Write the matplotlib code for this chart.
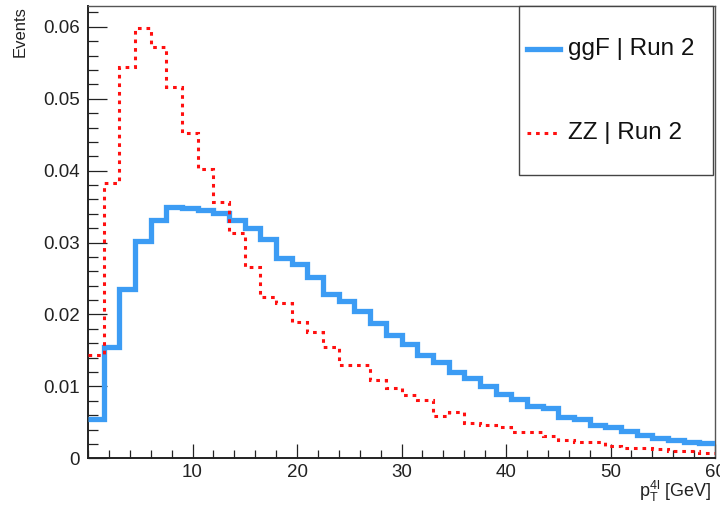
import numpy as np
import matplotlib
matplotlib.use("Agg")
import matplotlib.pyplot as plt
from matplotlib.lines import Line2D
from matplotlib.patches import Rectangle
from matplotlib.ticker import MultipleLocator

plt.rcParams["font.family"] = ["Liberation Sans", "DejaVu Sans"]
plt.rcParams["mathtext.fontset"] = "custom"
plt.rcParams["mathtext.rm"] = "Liberation Sans"
plt.rcParams["mathtext.it"] = "Liberation Sans"

# 40 bins of 1.5 GeV from 0 to 60
bin_edges = np.linspace(0, 60, 41)

ggf_run2 = [
    0.0055, 0.0155, 0.0235, 0.0302, 0.0331, 0.0349, 0.0348, 0.0345, 0.0341, 0.0331,
    0.0320, 0.0305, 0.0279, 0.0270, 0.0252, 0.0229, 0.0219, 0.0205, 0.0188, 0.0171,
    0.0159, 0.0144, 0.0134, 0.0120, 0.0111, 0.0100, 0.0089, 0.0083, 0.0073, 0.0070,
    0.0058, 0.0054, 0.0047, 0.0043, 0.0038, 0.0032, 0.0028, 0.0025, 0.0023, 0.0021,
]
zz_run2 = [
    0.0144, 0.0383, 0.0544, 0.0599, 0.0572, 0.0517, 0.0453, 0.0403, 0.0357, 0.0313,
    0.0266, 0.0225, 0.0216, 0.0189, 0.0176, 0.0155, 0.0130, 0.0130, 0.0109, 0.0098,
    0.0088, 0.0081, 0.0059, 0.0065, 0.0049, 0.0047, 0.0043, 0.0036, 0.0036, 0.0031,
    0.0025, 0.0023, 0.0022, 0.0017, 0.0015, 0.0015, 0.0013, 0.0010, 0.0010, 0.0008,
]
labels = ["ggF | Run 2", "ZZ | Run 2"]

blue = "#3c9cf4"
red = "#ff1010"
red_style = (0, (1.2, 1.6))

fig = plt.figure(figsize=(7.2, 5.09), dpi=100)
W, H = 720, 509
ax = fig.add_axes([88 / W, 1 - 458.3 / H, (715 - 88) / W, (458.3 - 6) / H])

ax.stairs(ggf_run2, bin_edges, baseline=None, color=blue, linewidth=3.8, zorder=3)
ax.stairs(zz_run2, bin_edges, baseline=None, color=red, linewidth=2.2,
          linestyle=red_style, zorder=4)

ax.set_xlim(0, 60)
ax.set_ylim(0, 0.0629)

ax.xaxis.set_major_locator(MultipleLocator(10))
ax.xaxis.set_minor_locator(MultipleLocator(2))
ax.yaxis.set_major_locator(MultipleLocator(0.01))
ax.yaxis.set_minor_locator(MultipleLocator(0.002))
ax.set_xticks([10, 20, 30, 40, 50, 60])
ax.set_yticks([0, 0.01, 0.02, 0.03, 0.04, 0.05, 0.06])
ax.set_yticklabels(["0", "0.01", "0.02", "0.03", "0.04", "0.05", "0.06"])

ax.tick_params(axis="both", which="both", direction="in", top=False, right=False,
               colors="#222222", labelcolor="#222222", labelsize=13.5, width=0.9)
ax.tick_params(axis="y", which="major", length=13.5, pad=6)
ax.tick_params(axis="y", which="minor", length=7)
ax.tick_params(axis="x", which="major", length=10, pad=4)
ax.tick_params(axis="x", which="minor", length=5.5)
for lbl in ax.get_xticklabels():
    lbl.set_clip_on(False)

for side in ["left", "bottom"]:
    ax.spines[side].set_linewidth(1.4)
    ax.spines[side].set_color("#222222")
for side in ["top", "right"]:
    ax.spines[side].set_linewidth(1.0)
    ax.spines[side].set_color("#555555")

fig.text(20 / W, 1 - 6 / H, "Events", rotation=90, ha="center", va="top",
         fontsize=12, color="#222222")
fig.text(711 / W, 1 - 497 / H, r"$\mathregular{p_{T}^{4l}}$ [GeV]", ha="right",
         va="baseline", fontsize=13, color="#222222")

# legend box
fig.patches.append(Rectangle((519 / W, 1 - 175 / H), (713 - 519) / W, (175 - 6) / H,
                             transform=fig.transFigure, facecolor="white",
                             edgecolor="#444444", linewidth=1.0, zorder=5))
entries = [(49, blue, 3.8, "-"), (133, red, 2.2, red_style)]
for (ypx, col, lw, ls), text in zip(entries, labels):
    y = 1 - ypx / H
    fig.lines.append(Line2D([527 / W, 560 / W], [y, y], transform=fig.transFigure,
                            color=col, linewidth=lw, linestyle=ls, zorder=6))
    fig.text(568 / W, y, text, ha="left", va="center", fontsize=17.5,
             color="#111111", zorder=7)

fig.savefig("out.png", dpi=100)
